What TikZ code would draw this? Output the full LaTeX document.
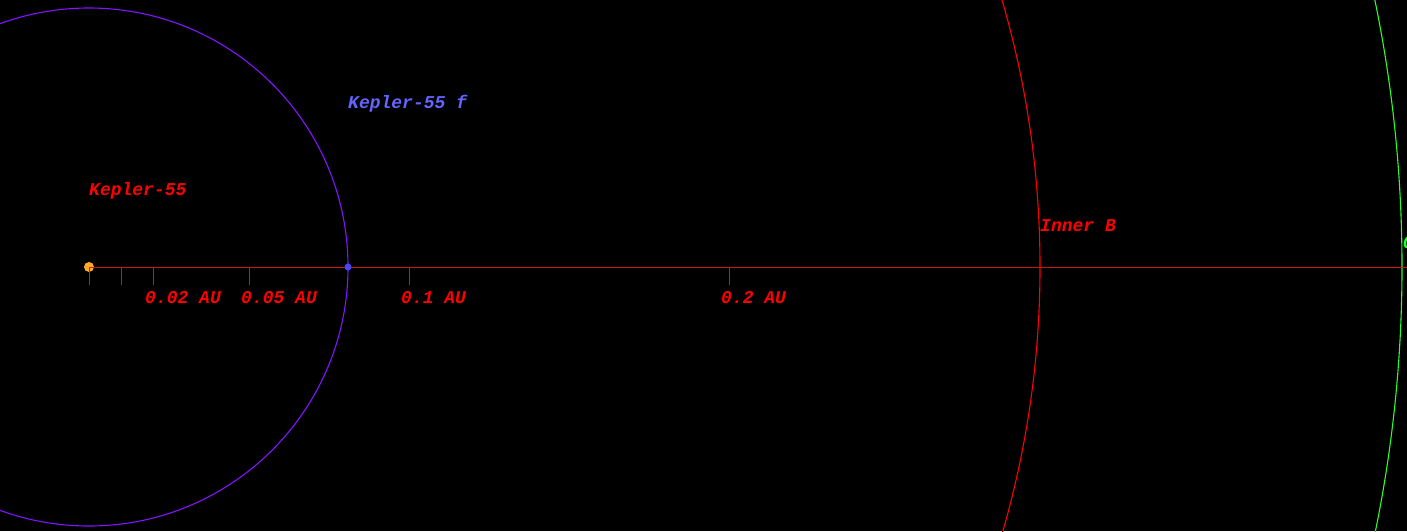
\documentclass[tikz,border=0pt]{standalone}
\usepackage{fontspec}
\newfontfamily\plotfont{Liberation Mono}
\definecolor{orbitpurple}{RGB}{130,20,255}
\definecolor{planetblue}{RGB}{70,70,255}
\definecolor{labelblue}{RGB}{100,100,255}
\definecolor{starorange}{RGB}{255,170,40}
\definecolor{axisred}{RGB}{210,20,20}
\definecolor{hzgreen}{RGB}{40,255,40}
\tikzset{
  lbl/.style={anchor=base west, inner sep=0pt, font=\plotfont\bfseries\itshape\fontsize{18}{18}\selectfont},
  redlbl/.style={lbl, text=red},
  tickline/.style={draw=axisred, line width=1pt},
  orbitline/.style={line width=1.1pt},
}
\begin{document}
\begin{tikzpicture}[x=1pt,y=-1pt]
\fill[black] (0,0) rectangle (1407,531);
\useasboundingbox (0,0) rectangle (1407,531);
\clip (0,0) rectangle (1407,531);
% orbits
\draw[orbitline, draw=orbitpurple] (89,267) circle (259);
\draw[orbitline, draw=red] (89,267) circle (951);
\draw[orbitline, draw=hzgreen] (89,267) circle (1313);
% axis
\coordinate (axisend) at (1407,267);
\node[circle, fill=starorange, minimum size=10pt, inner sep=0pt] (star) at (89,267) {};
\draw[tickline] (star.center) -- (axisend);
% ticks
\foreach \x in {89,121,153,249,409,729} \draw[tickline] (\x,267) -- (\x,285);
\node[circle, fill=planetblue, minimum size=7pt, inner sep=0pt] (planet) at (348,267) {};
% labels
\node[redlbl] (starlbl) at (89,195) {Kepler-55};
\node[lbl, text=labelblue] (planetlbl) at (348,108) {Kepler-55 f};
\node[redlbl] (t1) at (145,303) {0.02 AU};
\node[redlbl] (t2) at (241,303) {0.05 AU};
\node[redlbl] (t3) at (401,303) {0.1 AU};
\node[redlbl] (t4) at (721,303) {0.2 AU};
\node[redlbl] (innerb) at (1040,231) {Inner B};
\node[lbl, text=hzgreen] (outerb) at (1403,248) {Outer B};
\end{tikzpicture}
\end{document}
